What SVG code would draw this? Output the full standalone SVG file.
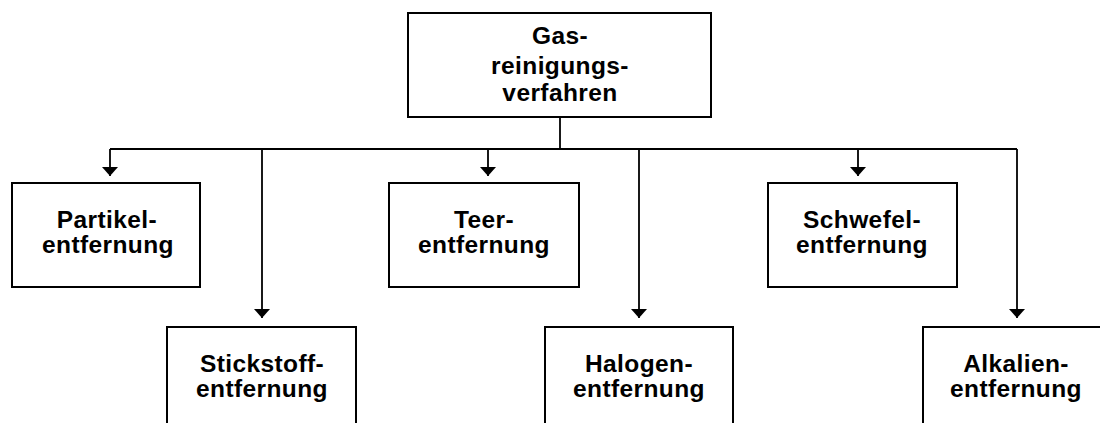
<svg xmlns="http://www.w3.org/2000/svg" width="1100" height="423" viewBox="0 0 1100 423">
  <style>
    .box { fill: #ffffff; stroke: #000000; stroke-width: 2; }
    .lbl { font-family: "Liberation Sans", Arial, sans-serif; font-weight: bold; font-size: 24.5px; fill: #000000; text-anchor: middle; letter-spacing: 0.4px; }
    .conn { fill: none; stroke: #000000; stroke-width: 1.8; }
  </style>
  <defs>
    <marker id="arrow" markerUnits="userSpaceOnUse" markerWidth="18" markerHeight="18" viewBox="0 -9 10 18" refX="9" refY="0" orient="auto">
      <path d="M0,-8 L9,0 L0,8 z" fill="#000000"/>
    </marker>
  </defs>
  <rect x="0" y="0" width="1100" height="423" fill="#ffffff"/>

  <g id="connectors">
    <line class="conn" x1="560" y1="117" x2="560" y2="149"/>
    <line class="conn" x1="110" y1="149" x2="1017" y2="149"/>
    <line class="conn" x1="110" y1="149" x2="110" y2="176" marker-end="url(#arrow)"/>
    <line class="conn" x1="262" y1="149" x2="262" y2="318" marker-end="url(#arrow)"/>
    <line class="conn" x1="488" y1="149" x2="488" y2="176" marker-end="url(#arrow)"/>
    <line class="conn" x1="639" y1="149" x2="639" y2="318" marker-end="url(#arrow)"/>
    <line class="conn" x1="858" y1="149" x2="858" y2="176" marker-end="url(#arrow)"/>
    <line class="conn" x1="1017" y1="149" x2="1017" y2="318" marker-end="url(#arrow)"/>
  </g>

  <g id="gasreinigung">
    <rect class="box" x="408" y="13" width="303" height="104"/>
    <text class="lbl" x="560" y="44">Gas-</text>
    <text class="lbl" x="560" y="74">reinigungs-</text>
    <text class="lbl" x="560" y="101">verfahren</text>
  </g>

  <g id="partikel">
    <rect class="box" x="12" y="183" width="188" height="104"/>
    <text class="lbl" x="107" y="228">Partikel-</text>
    <text class="lbl" x="108" y="253">entfernung</text>
  </g>

  <g id="teer">
    <rect class="box" x="389" y="183" width="190" height="104"/>
    <text class="lbl" x="484" y="228">Teer-</text>
    <text class="lbl" x="484" y="253">entfernung</text>
  </g>

  <g id="schwefel">
    <rect class="box" x="768" y="183" width="189" height="104"/>
    <text class="lbl" x="862" y="228">Schwefel-</text>
    <text class="lbl" x="862" y="253">entfernung</text>
  </g>

  <g id="stickstoff">
    <rect class="box" x="167" y="327" width="189" height="104"/>
    <text class="lbl" x="262" y="372">Stickstoff-</text>
    <text class="lbl" x="262" y="397">entfernung</text>
  </g>

  <g id="halogen">
    <rect class="box" x="545" y="327" width="188" height="104"/>
    <text class="lbl" x="639" y="372">Halogen-</text>
    <text class="lbl" x="639" y="397">entfernung</text>
  </g>

  <g id="alkalien">
    <rect class="box" x="923" y="327" width="189" height="104"/>
    <text class="lbl" x="1016" y="372">Alkalien-</text>
    <text class="lbl" x="1016" y="397">entfernung</text>
  </g>
</svg>
